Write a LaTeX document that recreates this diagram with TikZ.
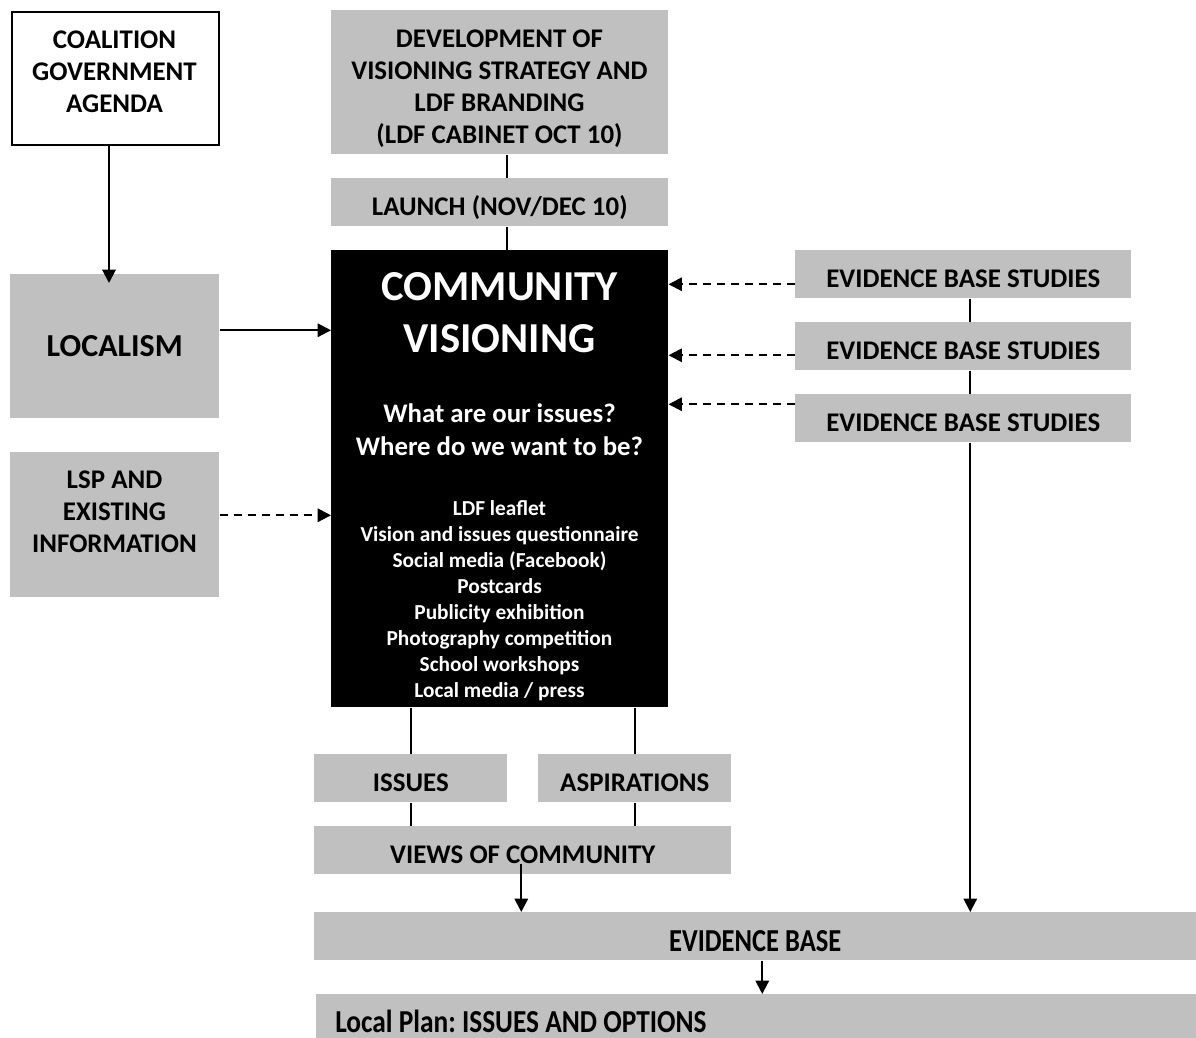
\documentclass[tikz,border=0pt]{standalone}
\usepackage{fontspec}
\setmainfont{Carlito}
\frenchspacing
\usetikzlibrary{arrows.meta,calc}
\definecolor{boxgray}{RGB}{192,192,192}
\begin{document}
\begin{tikzpicture}[x=0.75pt,y=-0.75pt,
  gbox/.style={fill=boxgray, draw=none, inner sep=0pt, anchor=north west, align=center,
    font=\fontsize{20.2}{24}\selectfont\bfseries},
  low/.style={text height=19.5pt, text depth=0pt},
  btext/.style={align=center, inner sep=0pt, font=\fontsize{20.2}{24}\selectfont\bfseries},
  conn/.style={line width=1.5pt},
  arr/.style={line width=1.5pt, -{Triangle[length=10pt,width=10pt]}},
  darr/.style={arr, dash pattern=on 6pt off 4.5pt},
  wtext/.style={text=white, inner sep=0pt}
]
\clip (0,0) rectangle (1196,1038);
\fill[white] (0,0) rectangle (1196,1038);

% left column
\node[draw=black, line width=1.5pt, fill=white, inner sep=0pt, anchor=north west,
  minimum width=155.25pt, minimum height=99.75pt] (coal) at (11,11) {};
\node[btext] (coaltext) at (114.5,71.5) {COALITION\\GOVERNMENT\\AGENDA};
\node[gbox, minimum width=156.75pt, minimum height=108pt, font=\fontsize{24}{28}\selectfont\bfseries]
  (loc) at (10,274) {LOCALISM};
\node[gbox, minimum width=156.75pt, minimum height=108.75pt] (lsp) at (10,452) {};
\node[btext] (lsptext) at (114.5,511.5) {LSP AND\\EXISTING\\INFORMATION};

% centre column
\node[gbox, minimum width=252.75pt, minimum height=108pt] (dev) at (331,10) {};
\node[btext] (devtext) at (499.5,88.5)
  {DEVELOPMENT OF\\VISIONING STRATEGY AND\\LDF BRANDING\\(LDF CABINET OCT 10)};
\node[gbox, low, minimum width=252.75pt, minimum height=36pt] (launch) at (331,178) {LAUNCH (NOV/DEC 10)};
\node[fill=black, inner sep=0pt, anchor=north west, minimum width=252.75pt, minimum height=342.75pt]
  (comm) at (331,250) {};
\node[wtext, align=center, font=\fontsize{32}{39}\selectfont\bfseries] (commtitle) at (499.5,313)
  {COMMUNITY\\VISIONING};
\node[wtext, align=center, font=\fontsize{20.1}{24.75}\selectfont\bfseries] (commq) at (499.5,430)
  {What are our issues?\\Where do we want to be?};
\foreach \t [count=\i] in {LDF leaflet, Vision and issues questionnaire, Social media (Facebook),
  Postcards, Publicity exhibition, Photography competition, School workshops, Local media / press}
  \node[wtext, anchor=base, font=\fontsize{16}{19}\selectfont\bfseries] (item\i) at (499.5,{515.5+26*(\i-1)}) {\t};

\node[gbox, low, minimum width=144.75pt, minimum height=36pt] (issues) at (314,754) {ISSUES};
\node[gbox, low, minimum width=144.75pt, minimum height=36pt] (asp) at (538,754) {ASPIRATIONS};
\node[gbox, low, minimum width=312.75pt, minimum height=36pt] (views) at (314,826) {VIEWS OF COMMUNITY};
\node[gbox, minimum width=661.5pt, minimum height=36pt, text height=23pt, text depth=0pt] (eb) at (314,912)
  {\scalebox{0.83}[1]{\fontsize{24}{28}\selectfont\bfseries EVIDENCE BASE}};
\node[gbox, minimum width=660pt, minimum height=42pt] (lp) at (316,994) {};
\node[anchor=base west, inner sep=0pt] (lptext) at (335,1032)
  {\scalebox{0.855}[1]{\fontsize{24}{28}\selectfont\bfseries Local Plan: ISSUES AND OPTIONS}};

% right column
\node[gbox, low, minimum width=252pt, minimum height=36pt] (ebs1) at (795,250) {EVIDENCE BASE STUDIES};
\node[gbox, low, minimum width=252pt, minimum height=36pt] (ebs2) at (795,322) {EVIDENCE BASE STUDIES};
\node[gbox, low, minimum width=252pt, minimum height=36pt] (ebs3) at (795,394) {EVIDENCE BASE STUDIES};

% connectors
\draw[arr] ($(coal.south)+(-6.5,0)$) coordinate (c1) -- (c1 |- {$(loc.north)+(0,9)$});
\draw[conn] ($(dev.south)+(7.5,0)$) coordinate (c2) -- (c2 |- launch.north);
\draw[conn] ($(launch.south)+(7.5,0)$) coordinate (c3) -- (c3 |- comm.north);
\draw[arr] ($(loc.east)+(0,-16)$) coordinate (c4) -- (c4 -| comm.west);
\draw[darr] ($(lsp.east)+(0,-9.5)$) coordinate (c5) -- (c5 -| comm.west);
\draw[darr] ($(ebs1.west)+(0,10)$) coordinate (c6) -- (c6 -| comm.east);
\draw[darr] ($(ebs2.west)+(0,9)$) coordinate (c7) -- (c7 -| comm.east);
\draw[darr] ($(ebs3.west)+(0,-14)$) coordinate (c8) -- (c8 -| comm.east);
\draw[conn] ($(ebs1.south)+(7,0)$) coordinate (c9) -- (c9 |- ebs2.north);
\draw[conn] ($(ebs2.south)+(7,0)$) coordinate (c10) -- (c10 |- ebs3.north);
\draw[arr] ($(ebs3.south)+(7,0)$) coordinate (c11) -- (c11 |- eb.north);
\draw[conn] (issues.north) -- (issues.north |- comm.south);
\draw[conn] (asp.north) -- (asp.north |- comm.south);
\draw[conn] (issues.south) -- (issues.south |- views.north);
\draw[conn] (asp.south) -- (asp.south |- views.north);
\draw[arr] ($(views.south)+(-1.5,-11)$) coordinate (c12) -- (c12 |- eb.north);
\draw[arr] ($(eb.south)+(7,0)$) coordinate (c13) -- (c13 |- lp.north);
\end{tikzpicture}
\end{document}
